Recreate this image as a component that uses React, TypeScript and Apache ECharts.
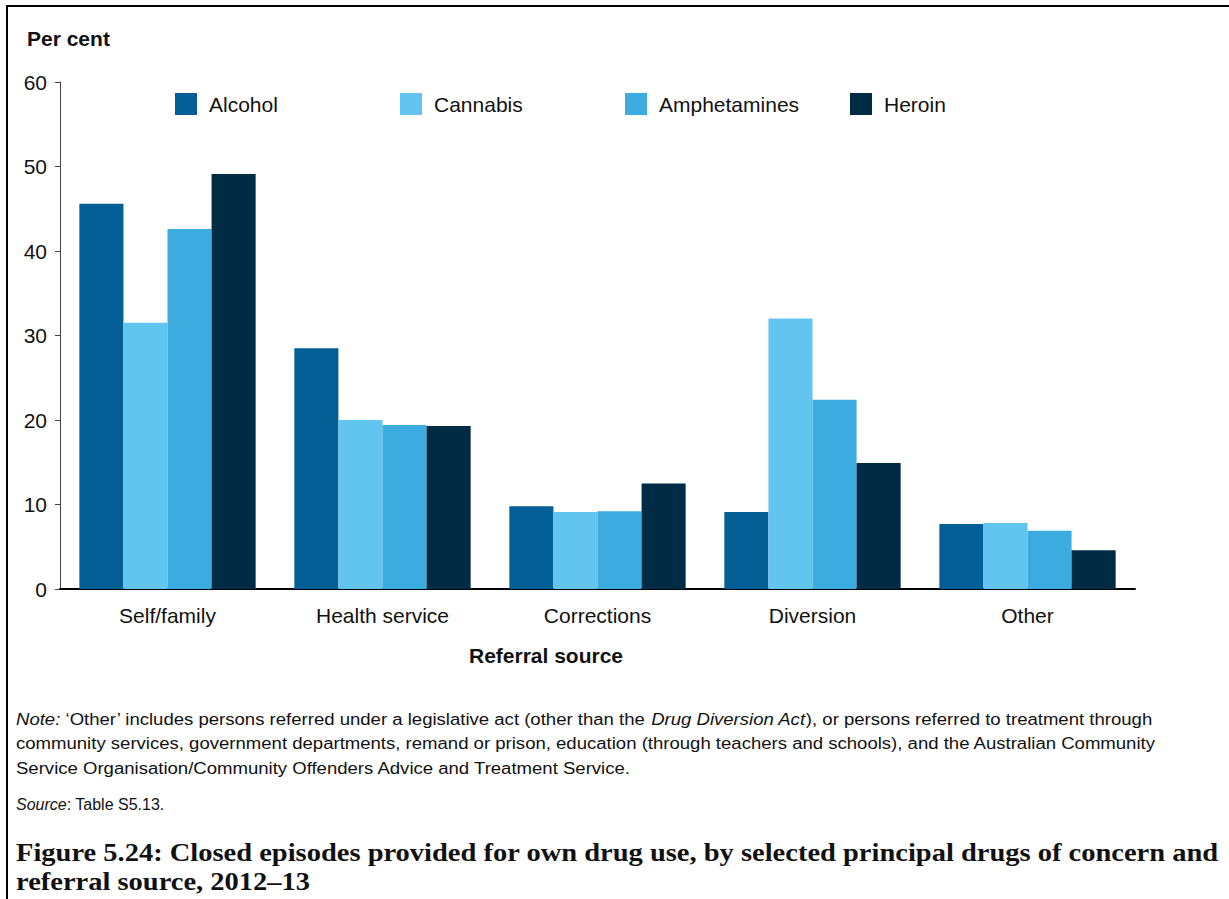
import React, { useEffect, useRef } from "react";
import * as echarts from "echarts";

const categories = ["Self/family", "Health service", "Corrections", "Diversion", "Other"];
const seriesNames = ["Alcohol", "Cannabis", "Amphetamines", "Heroin"];
const alcohol = [45.6, 28.5, 9.8, 9.1, 7.7];
const cannabis = [31.5, 20.0, 9.1, 32.0, 7.8];
const amphetamines = [42.6, 19.4, 9.2, 22.4, 6.9];
const heroin = [49.1, 19.3, 12.5, 14.9, 4.6];
const colors = ["#035F95", "#62C5F0", "#3BABE0", "#002B45"];
const yTicks = { min: 0, max: 60, interval: 10 };

const FONT = "'Liberation Sans', Arial, sans-serif";
const SERIF = "'Liberation Serif', 'Times New Roman', serif";

export default function App() {
  const ref = useRef<HTMLDivElement>(null);
  useEffect(() => {
    if (!ref.current) return;
    const chart = echarts.init(ref.current, undefined, { renderer: "svg" });
    const values = [alcohol, cannabis, amphetamines, heroin];
    const legendLefts = [170, 395, 620, 845];
    const noteStyle = { fontFamily: FONT, fontSize: 16, fill: "#111" };
    chart.setOption({
      animation: false,
      backgroundColor: "#fff",
      textStyle: { fontFamily: FONT },
      legend: seriesNames.map((n, i) => ({
        data: [n],
        left: legendLefts[i],
        top: 88,
        itemWidth: 22,
        itemHeight: 22,
        icon: "rect",
        textStyle: { fontSize: 21, color: "#111", fontFamily: FONT, padding: [0, 0, 0, 7] },
        selectedMode: false,
      })),
      grid: { left: 60, right: 94, top: 82, bottom: 310, containLabel: false },
      xAxis: {
        type: "category",
        data: categories,
        axisLine: { lineStyle: { color: "#000", width: 2 } },
        axisTick: { show: false },
        axisLabel: { fontSize: 21, color: "#111", margin: 16, fontFamily: FONT },
      },
      yAxis: {
        type: "value",
        min: yTicks.min,
        max: yTicks.max,
        interval: yTicks.interval,
        axisLine: { show: true, lineStyle: { color: "#444", width: 1 } },
        axisTick: { show: true, length: 5, lineStyle: { color: "#444" } },
        splitLine: { show: false },
        axisLabel: { fontSize: 21, color: "#111", margin: 13, fontFamily: FONT },
      },
      series: seriesNames.map((n, i) => ({
        name: n,
        type: "bar",
        data: values[i],
        barGap: "0%",
        barCategoryGap: "18%",
        itemStyle: { color: colors[i] },
      })),
      graphic: [
        { type: "line", shape: { x1: 6, y1: 6, x2: 1229, y2: 6 }, style: { stroke: "#000", lineWidth: 2 } },
        { type: "line", shape: { x1: 7, y1: 5, x2: 7, y2: 899 }, style: { stroke: "#000", lineWidth: 2 } },
        {
          type: "text", x: 27, y: 38,
          style: { text: "Per cent", fontFamily: FONT, fontSize: 21, fontWeight: "bold", fill: "#111", verticalAlign: "middle" },
        },
        {
          type: "text", x: 546, y: 655,
          style: { text: "Referral source", fontFamily: FONT, fontSize: 21, fontWeight: "bold", fill: "#111", align: "center", verticalAlign: "middle" },
        },
        {
          type: "text", x: 16, y: 707, scaleX: 1.16,
          style: {
            ...noteStyle,
            lineHeight: 24.5,
            text:
              "{i|Note:} {n|\u2018Other\u2019 includes persons referred under a legislative act (other than the }{i|Drug Diversion Act}{n|), or persons referred to treatment through}\n" +
              "{n|community services, government departments, remand or prison, education (through teachers and schools), and the Australian Community}\n" +
              "{n|Service Organisation/Community Offenders Advice and Treatment Service.}",
            rich: {
              i: { fontFamily: FONT, fontSize: 16, fontStyle: "italic", fill: "#111", lineHeight: 24.5 },
              n: { fontFamily: FONT, fontSize: 16, fill: "#111", lineHeight: 24.5 },
            },
          },
        },
        {
          type: "text", x: 16, y: 796,
          style: {
            ...noteStyle,
            text: "{i|Source}{n|: Table S5.13.}",
            rich: {
              i: { fontFamily: FONT, fontSize: 16, fontStyle: "italic", fill: "#111" },
              n: { fontFamily: FONT, fontSize: 16, fill: "#111" },
            },
          },
        },
        {
          type: "text", x: 16, y: 838, scaleX: 1.14,
          style: {
            text: "Figure 5.24: Closed episodes provided for own drug use, by selected principal drugs of concern and\nreferral source, 2012\u201313",
            fontFamily: SERIF, fontSize: 25, fontWeight: "bold", fill: "#111", lineHeight: 29,
          },
        },
      ],
    });
    return () => chart.dispose();
  }, []);
  return <div ref={ref} style={{ position: "fixed", left: 0, top: 0, width: 1229, height: 899 }} />;
}
